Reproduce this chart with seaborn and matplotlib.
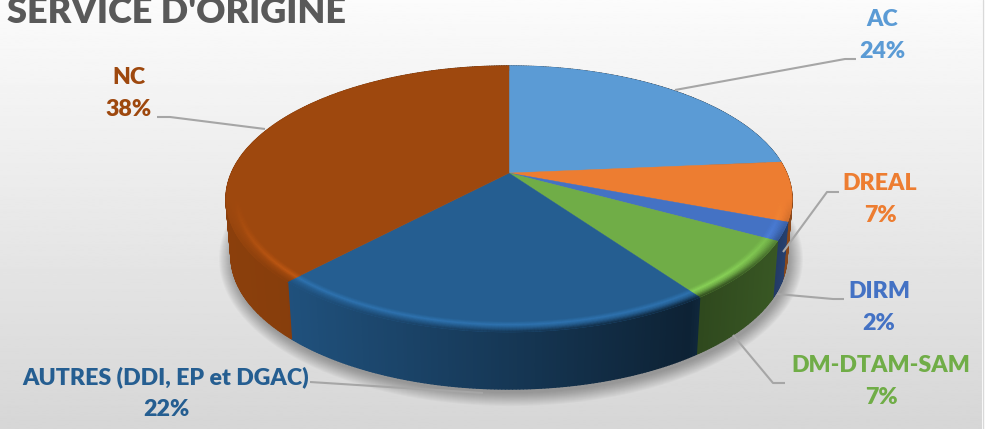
import numpy as np
import matplotlib
matplotlib.use("Agg")
import matplotlib.pyplot as plt
import seaborn as sns
from matplotlib.collections import PolyCollection

title = "SERVICE D'ORIGINE"
categories = ["AC", "DREAL", "DIRM", "DM-DTAM-SAM", "AUTRES (DDI, EP et DGAC)", "NC"]
values = [23.6, 7.2, 2.2, 7.2, 21.8, 38.0]
colors = ["#5b9bd5", "#ed7d31", "#4472c4", "#70ad47", "#255e91", "#9e480e"]

# where the labels and their leader lines sit, in picture pixels
label_pos = [(882, 19), (880, 184), (879, 291), (881, 365), (166, 377), (129, 78)]
leaders = [
    [(856, 59), (845, 59), (675, 90)],
    [(839, 192), (827, 192), (783, 252)],
    [(844, 299), (833, 299), (777, 294)],
    [(785, 383), (773, 383), (733, 335)],
    [(310, 382), (483, 393)],
    [(157, 117), (170, 117), (265, 129)],
]

sns.set_theme(style="white")
plt.rcParams["font.family"] = ["Lato", "DejaVu Sans"]
palette = sns.color_palette(colors)

# pie geometry (ellipse + perspective shift of the apex)
cx, cy, a, b = 509, 199, 283, 133
a_low, depth = 278, 57
k = 0.195


def project(phi, r=1.0):
    x, y = r * np.sin(phi), r * np.cos(phi)
    den = 1 + k * y
    return x * np.sqrt(1 - k ** 2) / den, (y + k) / den


def top_xy(phi, r=1.0):
    X, Y = project(phi, r)
    return cx + a * X, cy - b * Y


def low_xy(phi):
    X, Y = project(phi)
    return cx + a_low * X, cy + depth - b * Y


def wall_shade(x):
    return np.interp(x, [226, 295, 500, 690, 700, 775, 793], [0.88, 0.85, 0.6, 0.36, 0.42, 0.5, 0.6])


fig = plt.figure(figsize=(9.91, 4.29), dpi=100, facecolor="white")
ax = fig.add_axes([0, 0, 1, 1])
ax.set_xlim(0, 991)
ax.set_ylim(429, 0)
ax.axis("off")

# background gradient
grad = np.linspace(0.985, 0.84, 256).reshape(-1, 1)
ax.imshow(grad, extent=(0, 982, 429, 0), cmap="gray", vmin=0, vmax=1, aspect="auto", zorder=0)
ax.set_xlim(0, 991)
ax.set_ylim(429, 0)
ax.plot([982.5, 982.5], [0, 429], color="#d9d9d9", lw=1, zorder=0.5)

# soft shadow below the pie
t = np.linspace(0, 2 * np.pi, 200)
for grow in np.linspace(14, 1, 14):
    ax.fill(cx + 2 + (a_low + grow) * np.cos(t), cy + depth + 3 + (b + grow) * np.sin(t),
            color="black", alpha=0.022, lw=0, zorder=1)

edges = np.cumsum([0] + values) / sum(values) * 2 * np.pi
arcs = [np.linspace(edges[i], edges[i + 1], max(int(values[i] * 6), 12)) for i in range(len(values))]

# side wall
for arc, col in zip(arcs, palette):
    base = np.array(col)
    polys, cols = [], []
    for p0, p1 in zip(arc[:-1], arc[1:]):
        x0, y0 = top_xy(p0)
        x1, y1 = top_xy(p1)
        x2, y2 = low_xy(p1)
        x3, y3 = low_xy(p0)
        polys.append([(x0, y0), (x1, y1), (x2, y2), (x3, y3)])
        cols.append(base * wall_shade((x0 + x1) / 2))
    ax.add_collection(PolyCollection(polys, facecolors=cols, edgecolors=cols, linewidths=1.0, zorder=2))

# top face
apex = top_xy(0.0, 0.0)
for arc, col in zip(arcs, palette):
    xs, ys = top_xy(arc)
    ax.fill(np.r_[apex[0], xs], np.r_[apex[1], ys], color=col, lw=0.3, zorder=3)

# bevel along the front rim
bands = np.linspace(0.945, 1.0, 14)
for arc, col in zip(arcs, palette):
    base = np.array(col)
    light = np.clip(base * 1.2 + 0.01, 0, 1)
    polys, cols = [], []
    for r0, r1 in zip(bands[:-1], bands[1:]):
        pos = ((r0 + r1) / 2 - bands[0]) / (bands[-1] - bands[0])
        for p0, p1 in zip(arc[:-1], arc[1:]):
            x0, y0 = top_xy(p0, r0)
            x1, y1 = top_xy(p1, r0)
            x2, y2 = top_xy(p1, r1)
            x3, y3 = top_xy(p0, r1)
            ph = (p0 + p1) / 2
            weight = np.clip(-project(ph)[1] / 0.6, 0, 1)
            dark = base * wall_shade((x0 + x1) / 2)
            if pos < 0.35:
                c = base + (light - base) * pos / 0.35
            elif pos < 0.6:
                c = light + (base - light) * (pos - 0.35) / 0.25
            else:
                c = base + (dark - base) * (pos - 0.6) / 0.4
            polys.append([(x0, y0), (x1, y1), (x2, y2), (x3, y3)])
            cols.append(np.clip(base + (c - base) * weight, 0, 1))
    ax.add_collection(PolyCollection(polys, facecolors=cols, edgecolors=cols, linewidths=0.3, zorder=4))

# leader lines
for pts in leaders:
    xs, ys = zip(*pts)
    ax.plot(xs, ys, color="#a6a6a6", lw=1.5, solid_capstyle="butt", zorder=5)

# labels
for name, val, pos, col in zip(categories, values, label_pos, palette):
    ax.text(pos[0], pos[1], name, color=col, fontsize=16.7, fontweight="heavy",
            ha="center", va="center", zorder=6)
    ax.text(pos[0], pos[1] + 32, f"{val:.0f}%", color=col, fontsize=16.7, fontweight="heavy",
            ha="center", va="center", zorder=6)

ax.text(7, 23, title, color="#595959", fontsize=26, fontweight="heavy", ha="left", va="baseline", zorder=6)

fig.savefig("out.png", dpi=100, facecolor="white")
